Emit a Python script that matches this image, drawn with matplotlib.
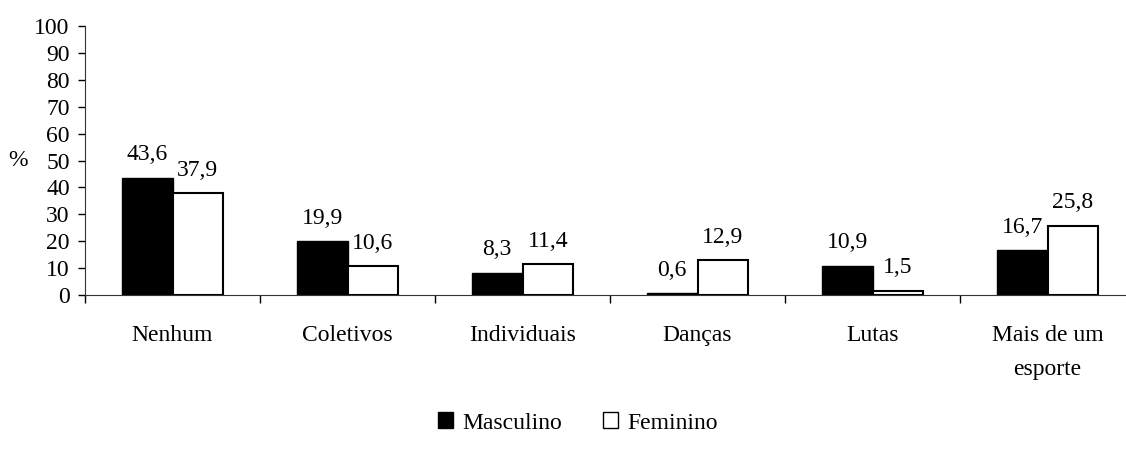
import numpy as np
import matplotlib
matplotlib.use("Agg")
import matplotlib.pyplot as plt
from matplotlib.patches import Patch

categories = ["Nenhum", "Coletivos", "Individuais", "Danças", "Lutas", "Mais de um\nesporte"]
masculino = [43.6, 19.9, 8.3, 0.6, 10.9, 16.7]
feminino = [37.9, 10.6, 11.4, 12.9, 1.5, 25.8]
masc_labels = ["43,6", "19,9", "8,3", "0,6", "10,9", "16,7"]
fem_labels = ["37,9", "10,6", "11,4", "12,9", "1,5", "25,8"]

plt.rcParams['font.family'] = ['Liberation Serif', 'DejaVu Serif']
plt.rcParams['font.size'] = 17

fig = plt.figure(figsize=(11.26, 4.61), dpi=100)
ax = fig.add_axes([85 / 1126, 1 - 295 / 461, 1050 / 1126, (295 - 26) / 461])

x = np.arange(len(categories)) + 0.5
w = 0.29
b1 = ax.bar(x - w / 2, masculino, w, color='black', edgecolor='black', linewidth=1)
b2 = ax.bar(x + w / 2, feminino, w, color='white', edgecolor='black', linewidth=1.5)

for rect, lab in zip(b1, masc_labels):
    ax.annotate(lab, (rect.get_x() + rect.get_width() / 2, rect.get_height()),
                xytext=(0, 9), textcoords='offset points', ha='center', va='bottom')
for rect, lab in zip(b2, fem_labels):
    ax.annotate(lab, (rect.get_x() + rect.get_width() / 2, rect.get_height()),
                xytext=(0, 9), textcoords='offset points', ha='center', va='bottom')

ax.set_xlim(0, 6)
ax.set_ylim(0, 100)
ax.set_yticks(range(0, 101, 10))
ax.tick_params(axis='y', direction='out', length=5, width=1, pad=6, labelsize=17)

# category boundary ticks
ax.set_xticks(range(0, 7))
ax.set_xticklabels([])
ax.tick_params(axis='x', direction='out', length=6, width=1)
for xi, cat in zip(x, categories):
    ax.text(xi, -11, cat, ha='center', va='top', linespacing=1.85)

for s in ['top', 'right']:
    ax.spines[s].set_visible(False)
ax.spines['left'].set_color('#333333')
ax.spines['bottom'].set_color('#333333')

fig.text(18 / 1126, 1 - 160 / 461, "%", ha='center', va='center')

handles = [Patch(facecolor='black', edgecolor='black'), Patch(facecolor='white', edgecolor='black')]
fig.legend(handles, ["Masculino", "Feminino"], loc='center', bbox_to_anchor=(578 / 1126, 1 - 423 / 461),
           ncol=2, frameon=False, handlelength=0.65, handleheight=0.65,
           handletextpad=0.4, columnspacing=1.7)

fig.savefig('out.png', dpi=100)
